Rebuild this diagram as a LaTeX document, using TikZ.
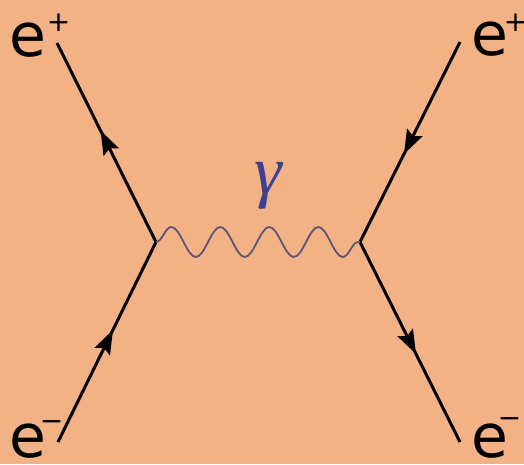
\documentclass[tikz,border=0pt]{standalone}
\usepackage{fontspec}
\usepackage{tikz}
\usepackage{xcolor}
\usetikzlibrary{arrows.meta,decorations.markings,decorations.pathmorphing}
\newfontfamily\lblfont{DejaVu Sans}
\newfontfamily\gamfont{Liberation Serif}
\definecolor{bgpeach}{RGB}{243,178,134}
\definecolor{photonline}{RGB}{95,85,115}
\definecolor{gammablue}{RGB}{60,65,150}
\newcommand{\lepton}[3]{e\kern#1pt\raisebox{#2pt}{\fontsize{28}{28}\selectfont #3}}

\begin{document}
\begin{tikzpicture}[x=1pt,y=-1pt,
  fermion/.style={line width=3pt,postaction={decorate},
    decoration={markings,mark=at position 0.56 with {\arrow{Stealth[length=24pt,width=17pt,inset=4pt]}}}},
  photon/.style={draw=photonline,line width=1.8pt,decorate,
    decoration={snake,segment length=49pt,amplitude=15pt}},
  lbl/.style={anchor=base west,inner sep=0pt,font=\lblfont\fontsize{60}{60}\selectfont}]
\fill[bgpeach] (0,0) rectangle (524,464);
\useasboundingbox (0,0) rectangle (524,464);
\coordinate (vl) at (156,242);
\coordinate (vr) at (360,242);
\coordinate (ein) at (58,442);
\coordinate (pout) at (57,43);
\coordinate (pin) at (460,42);
\coordinate (eout) at (460,442);
\draw[fermion] (ein) -- (vl);
\draw[fermion] (vl) -- (pout);
\draw[fermion] (pin) -- (vr);
\draw[fermion] (vr) -- (eout);
\draw[photon] (vl) -- (vr);
\node[text=gammablue,anchor=base,inner sep=0pt] (gam) at (268,194) {\gamfont\itshape\fontsize{70}{70}\selectfont γ};
\node[lbl] (epl) at (9.7,56) {\lepton{0}{25}{+}};
\node[lbl] (eml) at (9.7,457) {\lepton{-7}{27}{−}};
\node[lbl] (epr) at (471.7,55) {\lepton{-5}{24}{+}};
\node[lbl] (emr) at (471.7,457) {\lepton{-11}{30}{−}};
\end{tikzpicture}
\end{document}
